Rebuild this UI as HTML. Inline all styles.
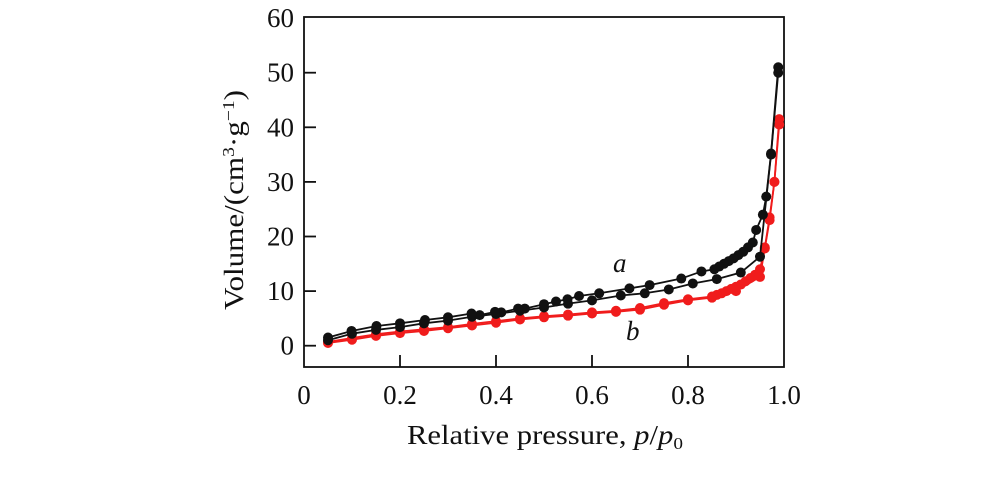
<!DOCTYPE html>
<html><head><meta charset="utf-8"><style>
body{margin:0;background:#fff}
text{font-family:"Liberation Serif",serif;font-size:27px;fill:#111}
</style></head><body>
<svg id="chart" width="1000" height="472" xmlns="http://www.w3.org/2000/svg">
<g id="axes"></g><g id="series"></g>
<text x="613" y="272" font-style="italic" font-size="27">a</text>
<text x="626" y="340" font-style="italic" font-size="27">b</text>
<text x="407" y="444" font-size="26" textLength="276" lengthAdjust="spacingAndGlyphs">Relative pressure, <tspan font-style="italic">p</tspan>/<tspan font-style="italic">p</tspan><tspan font-size="17" dy="5">0</tspan></text>
<text transform="translate(243,310) rotate(-90)" font-size="26" textLength="220" lengthAdjust="spacingAndGlyphs">Volume/(cm<tspan font-size="17" dy="-9">3</tspan><tspan dy="9">·g</tspan><tspan font-size="17" dy="-9">−1</tspan><tspan dy="9">)</tspan></text>
</svg>
<script>
const xTicks=[0,0.2,0.4,0.6,0.8,1.0];
const xTickLabels=["0","0.2","0.4","0.6","0.8","1.0"];
const yTicks=[0,10,20,30,40,50,60];
const aAdsX=[0.05,0.10,0.15,0.20,0.25,0.30,0.35,0.40,0.45,0.50,0.55,0.60,0.66,0.71,0.76,0.81,0.86,0.91,0.95,0.973,0.988];
const aAdsY=[1.0,2.2,2.9,3.4,4.1,4.6,5.3,5.8,6.4,7.0,7.7,8.3,9.2,9.6,10.3,11.4,12.2,13.4,16.3,35,50];
const aDesX=[0.988,0.973,0.963,0.956,0.942,0.935,0.925,0.915,0.905,0.895,0.885,0.875,0.865,0.855,0.828,0.786,0.72,0.678,0.615,0.573,0.549,0.525,0.5,0.46,0.446,0.411,0.398,0.366,0.349,0.30,0.252,0.20,0.151,0.099,0.05];
const aDesY=[51,35.2,27.3,24,21.2,18.9,18.0,17.2,16.6,16.0,15.5,15.0,14.5,14.0,13.6,12.3,11.1,10.5,9.6,9.1,8.5,8.1,7.6,6.8,6.8,6.1,6.2,5.6,5.9,5.2,4.7,4.1,3.6,2.7,1.5];
const bAdsX=[0.05,0.10,0.15,0.20,0.25,0.30,0.35,0.40,0.45,0.50,0.55,0.60,0.65,0.70,0.75,0.80,0.85,0.90,0.95,0.96,0.97,0.98,0.99];
const bAdsY=[0.5,1.1,1.8,2.3,2.7,3.2,3.7,4.2,4.8,5.2,5.5,5.9,6.2,6.6,7.5,8.3,8.8,10.0,12.6,17.8,23,30,40.5];
const bDesX=[0.99,0.98,0.97,0.96,0.95,0.94,0.93,0.92,0.91,0.90,0.89,0.88,0.87,0.86,0.85,0.80,0.75,0.70,0.65,0.60,0.55,0.50,0.45,0.40,0.35,0.30,0.25,0.20,0.15,0.10,0.05];
const bDesY=[41.5,30,23.5,18,14,13,12.4,11.8,11.2,10.8,10.4,10.0,9.6,9.3,9.0,8.5,7.8,6.9,6.4,6.1,5.7,5.4,5.0,4.5,4.0,3.4,3.0,2.6,2.1,1.4,0.7];
const X0=304,X1=784,Y0=345.7,YS=5.46,TOP=17,BOT=367;
const sx=v=>X0+(X1-X0)*v, sy=v=>Y0-YS*v;
const NS="http://www.w3.org/2000/svg";
const axes=document.getElementById('axes'),ser=document.getElementById('series');
function mk(t,a,p){const e=document.createElementNS(NS,t);for(const k in a)e.setAttribute(k,a[k]);p.appendChild(e);return e;}
const box=mk('rect',{x:X0,y:TOP,width:X1-X0,height:BOT-TOP,fill:'none',stroke:'#111','stroke-width':1.8},axes);


xTicks.forEach((t,i)=>{
  if(i>0&&i<xTicks.length-1){const l=mk('line',{x1:sx(t),x2:sx(t),y1:BOT,y2:BOT-12,stroke:'#111','stroke-width':1.8},axes);
  
  }
  const tx=mk('text',{x:sx(t),y:BOT+37,'text-anchor':'middle'},axes);tx.textContent=xTickLabels[i];
  
  
});
yTicks.forEach(t=>{
  if(t<60){const l=mk('line',{x1:X0,x2:X0+12,y1:sy(t),y2:sy(t),stroke:'#111','stroke-width':1.8},axes);
  
  }
  const tx=mk('text',{x:X0-10,y:sy(t)+9,'text-anchor':'end'},axes);tx.textContent=String(t);
  
  
});
function draw(xs,ys,col,name){
  const g=mk('g',{},ser);
  
  
  mk('polyline',{points:xs.map((x,i)=>sx(x)+','+sy(ys[i])).join(' '),fill:'none',stroke:col,'stroke-width':1.8},g);
  xs.forEach((x,i)=>{const c=mk('circle',{cx:sx(x),cy:sy(ys[i]),r:5,fill:col},g);
    
    });
}
draw(bAdsX,bAdsY,'#f01c1c','series-b-adsorption');
draw(bDesX,bDesY,'#f01c1c','series-b-desorption');
draw(aAdsX,aAdsY,'#111','series-a-adsorption');
draw(aDesX,aDesY,'#111','series-a-desorption');
</script>
</body></html>
